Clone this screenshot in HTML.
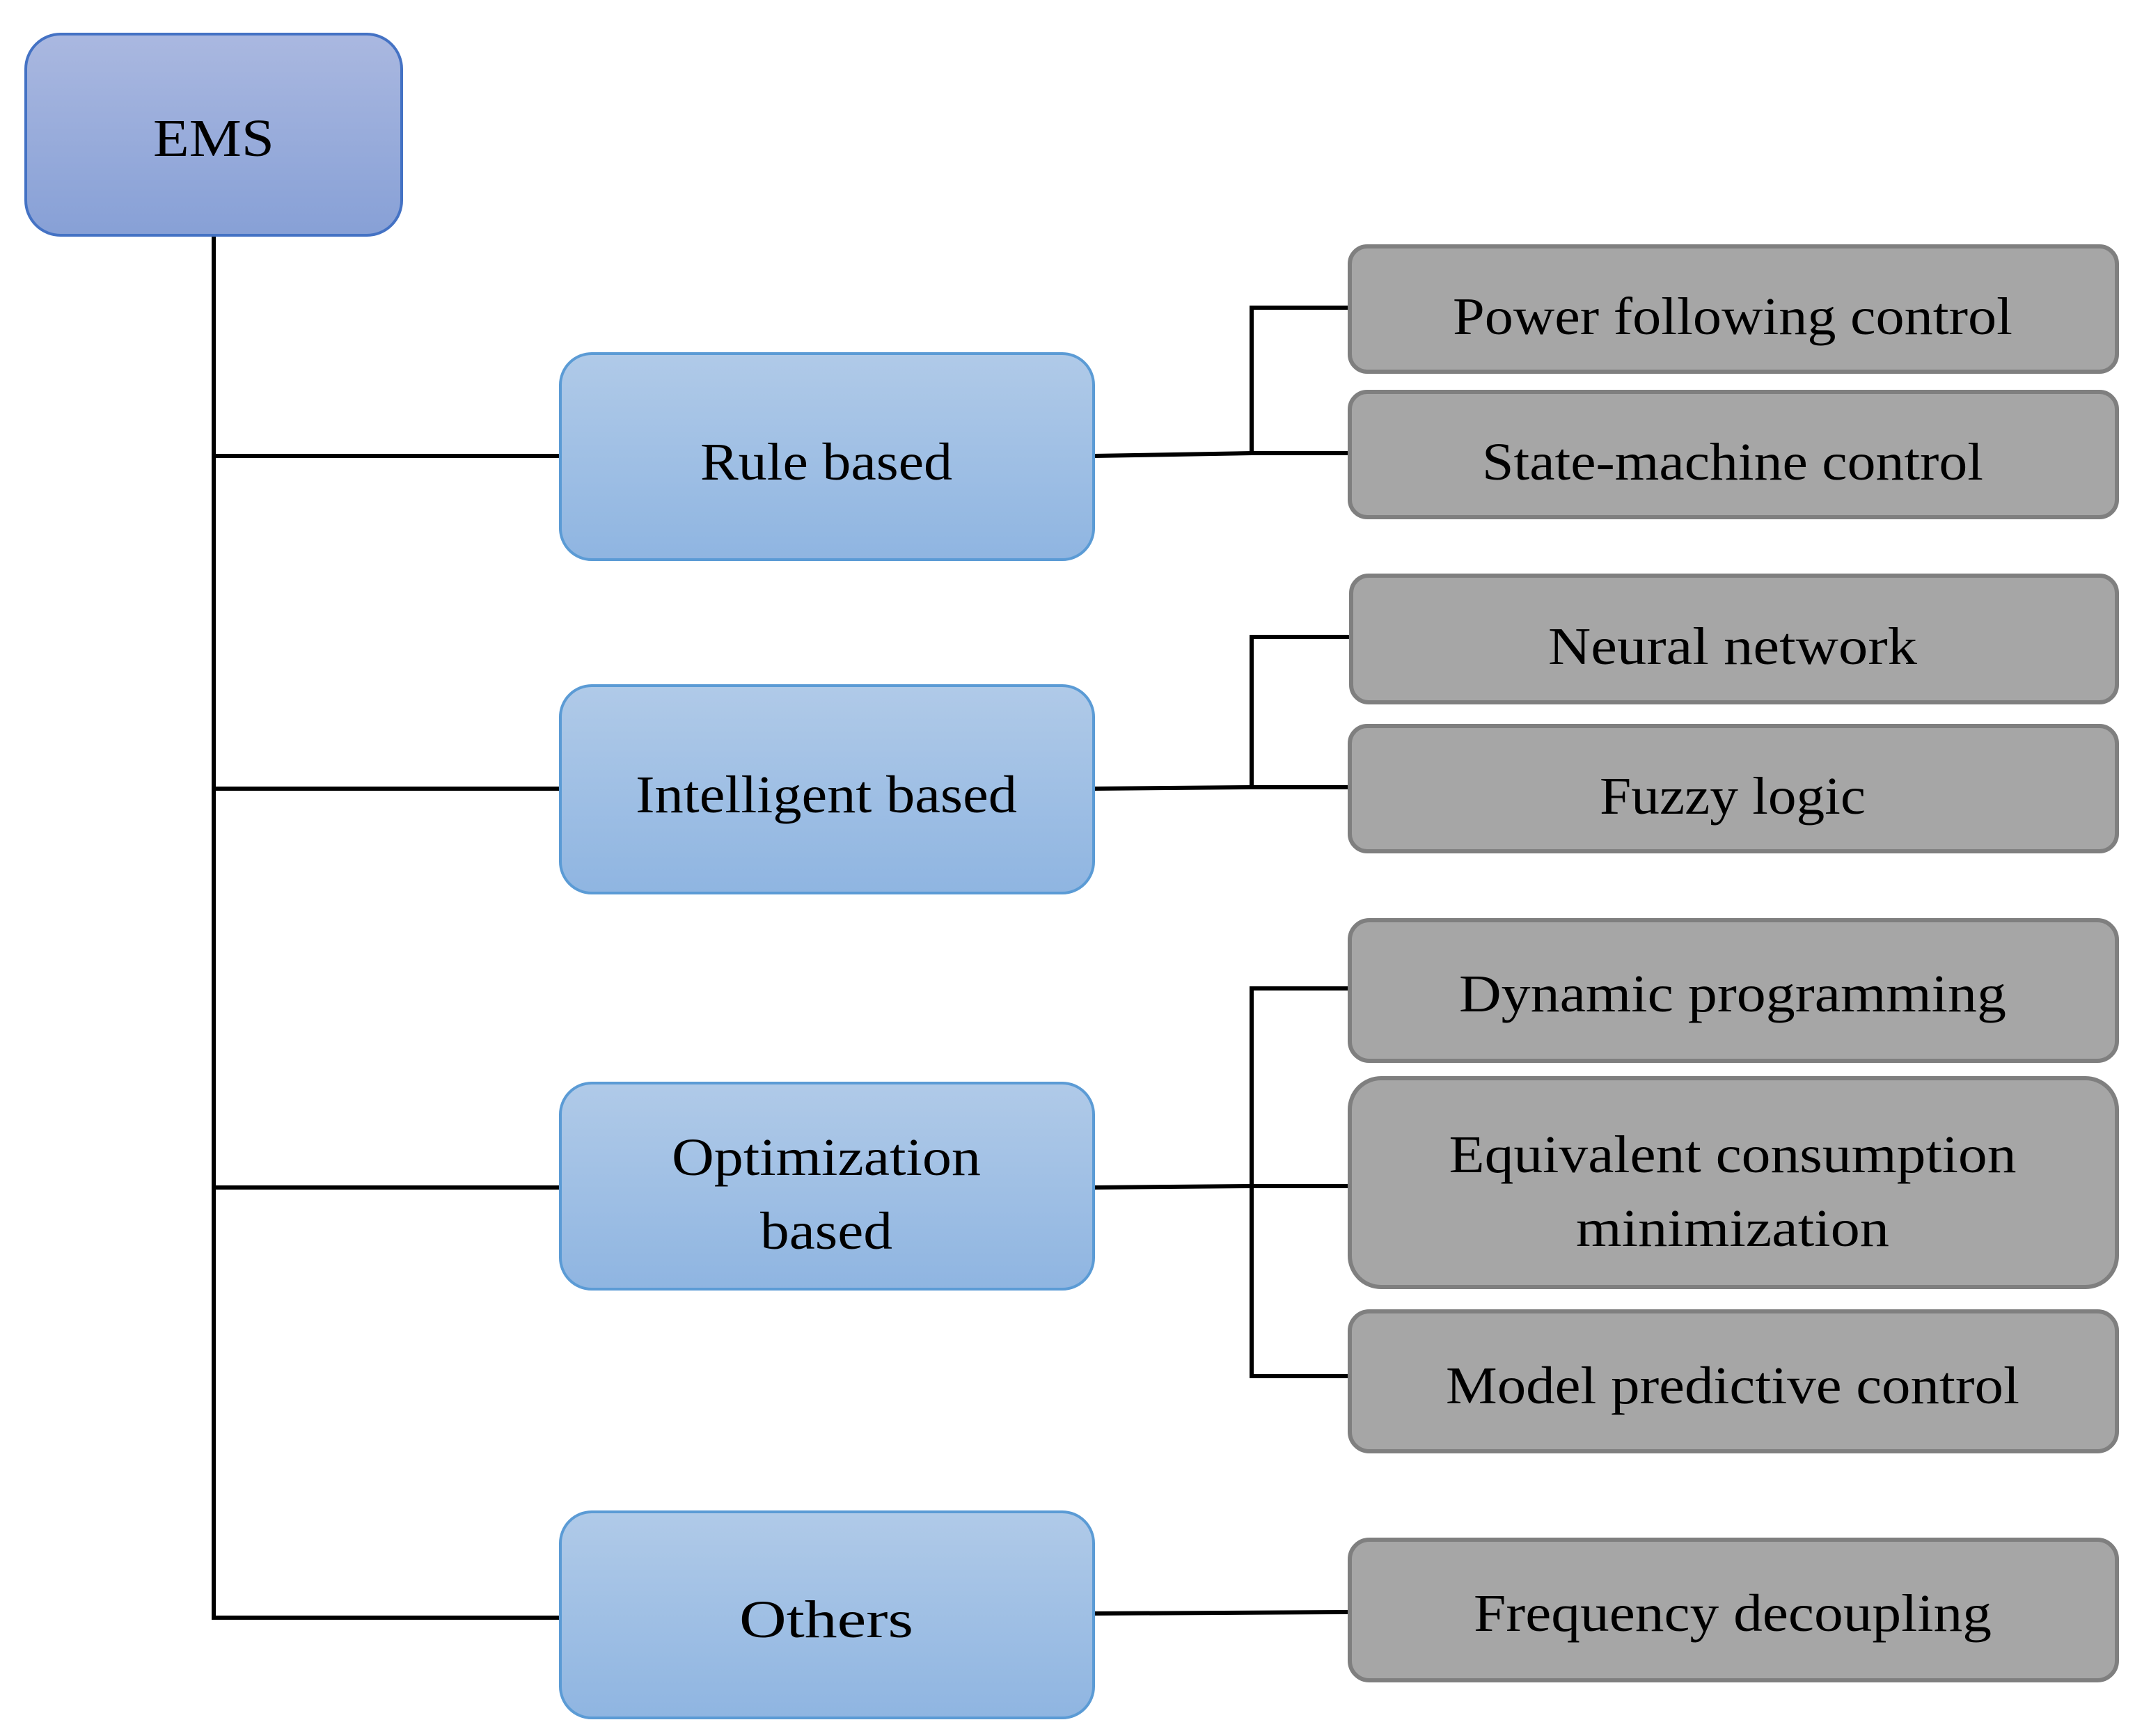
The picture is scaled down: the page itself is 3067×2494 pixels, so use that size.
<!DOCTYPE html>
<html><head><meta charset="utf-8"><style>html,body{margin:0;padding:0;background:#fff}svg{display:block}</style></head><body>
<svg width="3067" height="2494" viewBox="0 0 3067 2494" xmlns="http://www.w3.org/2000/svg">
<defs>
<linearGradient id="ge" x1="0" y1="0" x2="0" y2="1"><stop offset="0" stop-color="#aab8e0"/><stop offset="1" stop-color="#87a0d6"/></linearGradient>
<linearGradient id="gb" x1="0" y1="0" x2="0" y2="1"><stop offset="0" stop-color="#b0cae8"/><stop offset="1" stop-color="#8fb5e1"/></linearGradient>
</defs>
<g stroke="#000" stroke-width="6" fill="none">
<line x1="307" y1="338" x2="307" y2="2327"/>
<line x1="307" y1="655" x2="806" y2="655"/>
<line x1="307" y1="1133" x2="806" y2="1133"/>
<line x1="307" y1="1706" x2="806" y2="1706"/>
<line x1="307" y1="2324" x2="806" y2="2324"/>
<polyline points="1571,655 1798,651 1939,651"/>
<polyline points="1939,442 1798,442 1798,651"/>
<polyline points="1571,1133 1798,1131 1939,1131"/>
<polyline points="1939,915 1798,915 1798,1131"/>
<polyline points="1571,1706 1798,1704 1939,1704"/>
<polyline points="1939,1420 1798,1420 1798,1977 1939,1977"/>
<polyline points="1571,2318 1939,2316"/>
</g>
<rect x="37" y="49" width="540" height="289" rx="50" fill="url(#ge)" stroke="#4472c4" stroke-width="4"/>
<g fill="url(#gb)" stroke="#5b9bd5" stroke-width="4">
<rect x="805" y="508" width="766" height="296" rx="45"/>
<rect x="805" y="985" width="766" height="298" rx="45"/>
<rect x="805" y="1556" width="766" height="296" rx="45"/>
<rect x="805" y="2172" width="766" height="296" rx="45"/>
</g>
<g fill="#a6a6a6" stroke="#7f7f7f" stroke-width="6">
<rect x="1939" y="354" width="1102" height="180" rx="25"/>
<rect x="1939" y="563" width="1102" height="180" rx="25"/>
<rect x="1941" y="827" width="1100" height="182" rx="25"/>
<rect x="1939" y="1043" width="1102" height="180" rx="25"/>
<rect x="1939" y="1322" width="1102" height="202" rx="28"/>
<rect x="1939" y="1549" width="1102" height="300" rx="45"/>
<rect x="1939" y="1884" width="1102" height="201" rx="28"/>
<rect x="1939" y="2212" width="1102" height="202" rx="28"/>
</g>
<g font-family="'Liberation Serif', serif" font-size="76" fill="#000" text-anchor="middle">
<text x="307" y="224" textLength="174" lengthAdjust="spacingAndGlyphs">EMS</text>
<text x="1187" y="689" textLength="362" lengthAdjust="spacingAndGlyphs">Rule based</text>
<text x="1187" y="1167" textLength="548" lengthAdjust="spacingAndGlyphs">Intelligent based</text>
<text x="1187" y="1688" textLength="444" lengthAdjust="spacingAndGlyphs">Optimization</text>
<text x="1187" y="1794" textLength="190" lengthAdjust="spacingAndGlyphs">based</text>
<text x="1187" y="2352" textLength="250" lengthAdjust="spacingAndGlyphs">Others</text>
<text x="2489" y="480" textLength="804" lengthAdjust="spacingAndGlyphs">Power following control</text>
<text x="2489" y="689" textLength="720" lengthAdjust="spacingAndGlyphs">State-machine control</text>
<text x="2489" y="954" textLength="530" lengthAdjust="spacingAndGlyphs">Neural network</text>
<text x="2489" y="1169" textLength="382" lengthAdjust="spacingAndGlyphs">Fuzzy logic</text>
<text x="2489" y="1453" textLength="786" lengthAdjust="spacingAndGlyphs">Dynamic programming</text>
<text x="2489" y="1684" textLength="815" lengthAdjust="spacingAndGlyphs">Equivalent consumption</text>
<text x="2489" y="1790" textLength="450" lengthAdjust="spacingAndGlyphs">minimization</text>
<text x="2489" y="2016" textLength="824" lengthAdjust="spacingAndGlyphs">Model predictive control</text>
<text x="2489" y="2343" textLength="744" lengthAdjust="spacingAndGlyphs">Frequency decoupling</text>
</g>
</svg>
</body></html>
